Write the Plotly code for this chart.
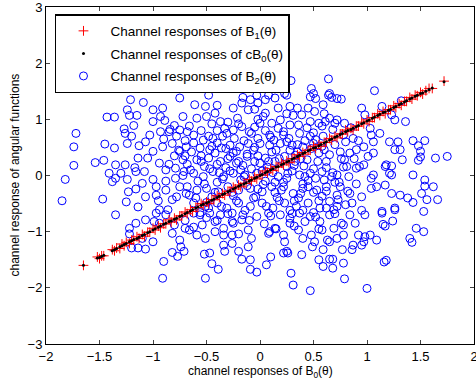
import plotly.graph_objects as go

# channel responses of B0 (x axis) and the two responses along the line
b0 = [
    -1.65, -1.52, -1.50, -1.48, -1.46, -1.38, -1.36, -1.34, -1.31, -1.29,
    -1.27, -1.25, -1.22, -1.20, -1.18, -1.15, -1.13, -1.10, -1.08, -1.05,
    -1.03, -1.00, -0.98, -0.95, -0.93, -0.90, -0.88, -0.85, -0.83, -0.80,
    -0.78, -0.75, -0.73, -0.70, -0.68, -0.65, -0.63, -0.60, -0.58, -0.55,
    -0.53, -0.50, -0.48, -0.45, -0.43, -0.40, -0.38, -0.35, -0.33, -0.30,
    -0.28, -0.25, -0.23, -0.20, -0.18, -0.15, -0.13, -0.10, -0.08, -0.05,
    -0.03, 0.00, 0.02, 0.05, 0.07, 0.10, 0.12, 0.15, 0.17, 0.20,
    0.22, 0.25, 0.27, 0.30, 0.32, 0.35, 0.37, 0.40, 0.42, 0.45,
    0.47, 0.50, 0.52, 0.55, 0.57, 0.60, 0.62, 0.65, 0.67, 0.70,
    0.72, 0.75, 0.77, 0.80, 0.82, 0.85, 0.87, 0.90, 0.92, 0.95,
    0.97, 1.00, 1.02, 1.05, 1.07, 1.10, 1.12, 1.15, 1.17, 1.20,
    1.22, 1.25, 1.27, 1.30, 1.32, 1.35, 1.37, 1.40, 1.42, 1.45,
    1.47, 1.50, 1.52, 1.55, 1.58, 1.61, 1.72,
]

b1 = [
    -1.60, -1.45, -1.48, -1.43, -1.43, -1.32, -1.34, -1.29, -1.30, -1.22,
    -1.25, -1.19, -1.21, -1.15, -1.15, -1.09, -1.12, -1.05, -1.08, -1.01,
    -1.01, -0.94, -0.97, -0.90, -0.93, -0.86, -0.86, -0.79, -0.83, -0.76,
    -0.79, -0.72, -0.72, -0.65, -0.68, -0.61, -0.64, -0.57, -0.57, -0.50,
    -0.53, -0.47, -0.50, -0.43, -0.43, -0.36, -0.39, -0.32, -0.35, -0.28,
    -0.28, -0.21, -0.24, -0.17, -0.20, -0.14, -0.14, -0.07, -0.10, -0.03,
    -0.06, 0.01, 0.01, 0.08, 0.05, 0.12, 0.09, 0.16, 0.15, 0.22,
    0.19, 0.26, 0.23, 0.30, 0.30, 0.37, 0.34, 0.41, 0.38, 0.45,
    0.45, 0.52, 0.48, 0.55, 0.52, 0.59, 0.59, 0.66, 0.63, 0.70,
    0.67, 0.74, 0.74, 0.81, 0.78, 0.84, 0.81, 0.88, 0.88, 0.95,
    0.92, 0.99, 0.96, 1.03, 1.03, 1.10, 1.07, 1.14, 1.10, 1.17,
    1.17, 1.24, 1.21, 1.28, 1.25, 1.32, 1.32, 1.39, 1.36, 1.43,
    1.42, 1.48, 1.45, 1.51, 1.55, 1.55, 1.68,
]

cb0 = [
    -1.60, -1.47, -1.46, -1.44, -1.42, -1.34, -1.32, -1.30, -1.27, -1.25,
    -1.23, -1.21, -1.18, -1.16, -1.14, -1.12, -1.10, -1.07, -1.05, -1.02,
    -1.00, -0.97, -0.95, -0.92, -0.90, -0.87, -0.85, -0.82, -0.81, -0.78,
    -0.76, -0.73, -0.71, -0.68, -0.66, -0.63, -0.61, -0.58, -0.56, -0.53,
    -0.51, -0.49, -0.47, -0.44, -0.42, -0.39, -0.37, -0.34, -0.32, -0.29,
    -0.27, -0.24, -0.22, -0.19, -0.17, -0.15, -0.13, -0.10, -0.08, -0.05,
    -0.03, 0.00, 0.02, 0.05, 0.07, 0.10, 0.12, 0.15, 0.16, 0.19,
    0.21, 0.24, 0.26, 0.29, 0.31, 0.34, 0.36, 0.39, 0.41, 0.44,
    0.46, 0.49, 0.50, 0.53, 0.55, 0.58, 0.60, 0.63, 0.65, 0.68,
    0.70, 0.73, 0.75, 0.78, 0.80, 0.82, 0.84, 0.87, 0.89, 0.92,
    0.94, 0.97, 0.99, 1.02, 1.04, 1.07, 1.09, 1.12, 1.13, 1.16,
    1.18, 1.21, 1.23, 1.26, 1.28, 1.31, 1.33, 1.36, 1.38, 1.41,
    1.43, 1.46, 1.47, 1.50, 1.53, 1.56, 1.67,
]

# channel responses of B2 (scattered cloud)
b2_x = [
    -1.21, -1.09, -0.75, -0.91, -1.00, -1.24, -1.43, -1.36, -1.22, -1.15,
    -1.00, -0.93, -0.89, -0.80, -0.72, -1.18, -1.27, -1.26, -1.20, -1.24,
    -1.72, -1.74, -1.45, -1.36, -1.03, -0.93, -0.85, -0.75, -0.68, -1.13,
    -1.07, -1.00, -0.91, -0.82, -0.75, -0.69, -1.14, -1.05, -0.94, -0.88,
    -0.79, -0.72, -1.54, -1.46, -1.35, -1.26, -1.17, -1.74, -1.82, -1.41,
    -1.35, -1.30, -1.38, -1.24, -1.16, -1.08, -1.00, -1.10, -1.16, -1.23,
    -1.07, -0.97, -0.88, -0.75, -0.69, -1.85, -1.47, -1.25, -1.14, -1.35,
    -0.94, -0.86, -0.82, -0.97, -0.79, -0.71,
    -1.16, -1.22, -1.22, -1.10, -1.00, -1.20, -1.14, -1.07, -0.99, -0.97,
    -0.88, -0.82, -0.80, -0.82, -0.77, -0.75, -0.74, -0.71, -0.70, -0.90,
    -0.91, -0.66, -1.07, -0.94,
    -0.51, -0.52, -0.47, -0.45, -0.39, -0.54, -0.59, -0.51, -0.42, -0.34,
    -0.34, -0.33, -0.26, -0.20, -0.20, -0.17, -0.11, -0.09, -0.09, -0.03,
    -0.08, -0.11, 0.06, 0.10, 0.08, 0.14, 0.22, 0.23, 0.25, 0.26,
    0.29, 0.31, 0.39, 0.47, 0.40, 0.51, 0.49, 0.55, 0.59, 0.63,
    0.65, 0.58, 0.36, 0.28, -0.25, -0.17, -0.42,
    -0.62, -0.56, -0.47, -0.37, -0.26, -0.16, -0.03, 0.08, 0.19, 0.28,
    0.37, 0.42, 0.47, 0.56, 0.65, 0.48, 0.22, 0.09, -0.26, -0.34,
    0.65, 0.59,
    0.79, 1.00, 0.78, 0.68, 0.68, 0.77, 0.86, 0.87, 0.95, 1.16,
    1.18, 1.40, 1.42, 1.46, 1.53, 1.53, 1.24, 1.15, 1.17, 1.14,
    1.09, 1.03, 0.98, 0.92, 0.97, 0.78, 0.72, 0.69, 0.78, 0.89,
    0.98, 0.84, 1.26,
    1.07, 0.76, 0.67, 0.64, 0.95, 1.14, 1.32, 1.23, 1.26, 1.36,
    0.98, 1.03, 1.12, 1.06, 1.21, 1.29, 1.43, 1.54, 1.48, 1.50,
    1.26, 1.31, 1.33, 1.50, 1.48, 1.64, 1.75, 1.17, 1.23, 1.23,
    1.43, 1.54, 1.62, 1.54, 1.51, 1.38, 1.43, 1.56, 1.66, 1.26,
    1.31, 1.23, 1.14, 1.09, 1.17, 1.04, 1.06, 1.04, 1.21, 1.18,
    0.93, 0.97, 0.90, 1.01, 1.06, 0.97, 0.90, 0.84, 0.79, 0.81,
    0.72, 0.83, 0.75, 0.84, 0.95, 0.86, 0.73, 0.69, 1.04, 0.87,
    0.78, 0.70, 0.79, 0.72,
    -0.61, -0.51, -0.42, -0.37, -0.59, -0.25, -0.17, -0.11, -0.09, -0.02,
    0.05, 0.14, 0.25, 0.28, 0.39, 0.47, 0.51, 0.59, 0.64, 0.61,
    0.55, 0.47, 0.28, 0.19, 0.11, 0.00, 0.05, 0.17, -0.25, -0.31,
    -0.17, -0.08, 0.09, 0.22, 0.37, 0.47, 0.59, -0.62, -0.53, -0.44,
    -0.56, -0.47, -0.36, -0.28, -0.19, -0.11, 0.00, 0.09, 0.19, 0.30,
    0.40, 0.50, -0.59, -0.48, -0.37, -0.28, -0.20, -0.12, -0.05, 0.05,
    0.14, 0.23, 0.33, 0.44, 0.54, 0.65, -0.62, -0.53, -0.44, -0.34,
    -0.25, -0.14, -0.03, 0.06, 0.17, 0.26, 0.37, 0.47, 0.58, 0.67,
    -0.59, -0.50, -0.39, -0.30, -0.20, -0.09, 0.02, 0.11, 0.20, 0.31,
    0.40, 0.53, 0.62, -0.62, -0.51, -0.40, -0.31, -0.20, -0.09, 0.02,
    0.12, 0.23, 0.34, 0.45, 0.56, 0.65,
    0.29, 0.20, 0.23, 0.48, 0.65, 0.72, 0.50, -0.48, -0.16, -0.03,
    0.08, 0.52,
    -0.66, -0.45, -0.21, 0.03, 0.31, 0.44, 0.68, -0.55, -0.33, -0.05,
    0.17, 0.36, 0.58, -0.70, -0.40, -0.24, -0.02, 0.13, 0.27, 0.52,
    0.70, -0.64, -0.42, -0.22, -0.06, 0.11, 0.35, 0.60, -0.68, -0.52,
    -0.32, -0.16, 0.07, 0.25, 0.41, 0.62, -0.58, -0.40, -0.18, 0.05,
    0.22, 0.45, 0.70, -0.66, -0.45, -0.25, -0.04, 0.16, 0.36, 0.58,
    -0.56, -0.36, -0.14, 0.06, 0.28, 0.50, 0.72, -0.48, -0.10, 0.22,
    0.50, -0.30, 0.00, 0.30, 0.52, -0.12, 0.14, 0.40, -0.50, 0.62,
    -0.80, -0.78, 0.80, 0.82, 0.76, -0.84, 0.85, -0.05, 0.35, -0.40,
    0.60, -0.26, 0.04, 0.32, -0.70, 0.76,
    -0.35, -0.15, 0.05, 0.25, 0.42, -0.45, -0.25, -0.05, 0.15, 0.33,
    -0.55, -0.40, -0.22, -0.02, 0.18, 0.38, 0.55, -0.65, -0.47, -0.28,
    -0.08, 0.12, 0.32, 0.50, 0.62, -0.52, -0.35, -0.15, 0.03, 0.25,
    0.42, 0.60, -0.60, -0.42, -0.22, -0.02, 0.18, 0.38, 0.55, 0.72,
    -0.50, -0.30, -0.10, 0.10, 0.30, 0.52, 0.70, -0.72, -0.76, -0.78,
    0.75, 0.78, 0.74, 0.80, -0.30, -0.02, 0.25, 0.45, -0.50, 0.65,
    -0.62, -0.40, -0.20, 0.10, 0.35, 0.58, -0.68, -0.48, 0.40, 0.62,
    -0.85, -0.88, -0.90, 0.88, 0.90, 0.92, -0.95, 0.95, -0.62, 0.15,
    -0.32, -0.12, 0.08, 0.28, 0.48, -0.38, -0.18, 0.02, 0.22, 0.45,
    -0.55, -0.70, -0.26, -0.06, 0.14, 0.32, 0.50, 0.68, -0.40, 0.55,
]

b2_y = [
    1.35, 1.30, 1.38, 1.20, 1.17, 1.17, 1.04, 1.04, 1.07, 1.07,
    0.96, 1.05, 0.98, 0.89, 1.05, 0.89, 0.83, 0.75, 0.70, 0.57,
    0.75, 0.51, 0.56, 0.49, 0.72, 0.78, 0.78, 0.81, 0.78, 0.53,
    0.60, 0.43, 0.51, 0.57, 0.43, 0.51, 0.31, 0.31, 0.22, 0.10,
    0.13, 0.28, 0.23, 0.27, 0.19, 0.19, 0.14, 0.18, -0.07, 0.04,
    -0.05, 0.04, -0.11, -0.07, 0.07, 0.07, -0.07, -0.14, -0.24, -0.29,
    -0.38, -0.35, -0.26, -0.20, -0.32, -0.45, -0.42, -0.47, -0.56, -0.70,
    -0.61, -0.61, -0.43, -0.20, -0.05, 0.07,
    -0.85, -0.94, -1.04, -1.12, -1.18, -1.29, -1.29, -1.31, -0.82, -0.67,
    -0.70, -1.03, -0.88, -1.37, -1.44, -1.15, -1.27, -1.35, -0.94, -1.53,
    -1.83, -0.97, -0.79, -0.85,
    -1.83, -1.40, -1.38, -1.57, -1.67, -0.88, -1.06, -1.12, -1.00, -1.06,
    -1.24, -1.35, -1.21, -1.04, -1.35, -1.49, -1.27, -1.50, -1.67, -1.72,
    -1.12, -0.97, -1.59, -1.45, -1.03, -0.94, -1.06, -1.18, -1.35, -1.38,
    -1.74, -1.95, -1.41, -2.05, -1.12, -1.18, -1.27, -1.50, -1.62, -1.15,
    -1.49, -0.97, -0.97, -0.85, -0.85, -0.79, -0.82,
    -0.67, -0.70, -0.67, -0.70, -0.67, -0.70, -0.73, -0.67, -0.70, -0.76,
    -0.67, -0.82, -0.73, -0.82, -0.70, -1.06, -1.38, -1.00, -1.06, -0.94,
    -1.18, -1.32,
    -1.84, -2.01, -1.56, -1.49, -1.65, -1.32, -1.32, -1.24, -1.24, -1.54,
    -1.51, -1.12, -1.19, -0.94, -1.00, -0.64, -0.81, -0.87, -0.90, -0.67,
    -1.15, -1.06, -1.09, -1.06, -1.18, -1.06, -1.12, -0.94, -0.88, -0.85,
    -0.70, -0.70, -0.61,
    1.51, 1.36, 1.39, 1.72, 1.20, 1.23, 1.33, 1.08, 0.99, 0.96,
    1.08, 0.84, 0.75, 0.60, 0.60, 0.60, 0.62, 0.62, 0.53, 0.43,
    0.46, 0.46, 0.28, 0.33, 0.27, 0.31, 0.34, 0.16, 0.17, 0.01,
    0.01, -0.08, -0.20, -0.19, -0.32, -0.40, -0.48, -0.43, -0.43, -0.58,
    -0.35, -0.32, -0.64, -0.20, -0.17, -0.23, 0.01, -0.05, 0.04, 0.19,
    0.16, 0.19, 0.13, 0.34, 0.40, 0.51, 0.46, 0.40, 0.28, 0.16,
    0.01, -0.02, -0.20, -0.32, -0.38, -0.49, -0.43, -0.61, 0.72, 0.66,
    0.72, 0.93, 0.93, 0.99,
    1.26, 1.23, 1.11, 0.96, 1.02, 1.20, 1.29, 1.17, 1.35, 1.29,
    1.35, 1.38, 1.43, 1.23, 1.08, 1.40, 1.14, 1.26, 1.43, 0.96,
    0.93, 0.96, 0.90, 0.99, 0.93, 0.93, 1.11, 1.20, 0.81, 0.75,
    0.87, 0.75, 0.72, 0.72, 0.75, 0.70, 0.70, 0.72, 0.63, 0.66,
    0.49, 0.46, 0.49, 0.54, 0.51, 0.57, 0.57, 0.54, 0.57, 0.54,
    0.51, 0.57, 0.28, 0.31, 0.25, 0.34, 0.25, 0.34, 0.25, 0.31,
    0.25, 0.34, 0.25, 0.28, 0.25, 0.37, 0.04, -0.02, 0.07, -0.02,
    0.04, 0.01, 0.04, 0.07, -0.02, 0.04, 0.01, 0.04, 0.07, -0.02,
    -0.26, -0.23, -0.29, -0.20, -0.26, -0.23, -0.29, -0.20, -0.26, -0.32,
    -0.23, -0.26, -0.20, -0.49, -0.55, -0.49, -0.58, -0.49, -0.55, -0.49,
    -0.58, -0.49, -0.55, -0.49, -0.58, -0.46,
    1.69, 1.55, 1.46, 1.55, 1.46, 1.37, 1.46, 1.43, 1.39, 1.43,
    1.43, 1.37,
    0.88, 0.92, 1.02, 1.05, 1.07, 0.85, 0.82, 0.80, 0.84, 0.86,
    0.84, 0.90, 0.88, 0.62, 0.58, 0.66, 0.66, 0.63, 0.66, 0.64,
    0.55, 0.42, 0.40, 0.43, 0.45, 0.42, 0.42, 0.46, 0.20, 0.16,
    0.14, 0.18, 0.15, 0.16, 0.17, 0.14, -0.10, -0.12, -0.08, -0.10,
    -0.12, -0.09, -0.12, -0.35, -0.38, -0.36, -0.38, -0.39, -0.40, -0.37,
    -0.66, -0.55, -0.62, -0.55, -0.62, -0.66, -0.55, 0.70, 0.78, 0.78,
    0.76, 0.30, 0.22, 0.08, -0.05, -0.18, -0.30, -0.15, -0.48, -0.28,
    0.35, -0.38, 0.60, -0.28, 0.30, 0.82, 0.85, 1.18, 1.20, 1.25,
    1.10, -0.82, -0.86, -0.90, -0.80, -0.85,
    0.70, 0.62, 0.80, 0.60, 0.62, 0.52, 0.40, 0.50, 0.45, 0.36,
    0.35, 0.20, 0.22, 0.35, 0.30, 0.30, 0.40, 0.10, 0.12, 0.08,
    0.12, 0.05, 0.18, 0.12, 0.25, -0.15, -0.06, -0.02, -0.16, -0.05,
    -0.02, -0.08, -0.40, -0.30, -0.45, -0.24, -0.45, -0.32, -0.45, -0.35,
    -0.75, -0.68, -0.80, -0.72, -0.68, -0.74, -0.68, 0.00, 0.45, 0.70,
    0.42, 0.15, -0.12, -0.52, 0.95, 1.00, 1.10, 1.20, 1.05, 1.02,
    0.58, 0.80, 0.92, 0.68, 0.55, 0.52, -0.20, -0.58, -0.62, -0.58,
    0.20, -0.10, 0.65, 0.30, -0.15, 0.62, -0.45, -0.62, -0.92, -0.95,
    0.48, 0.38, 0.25, 0.45, 0.48, 0.05, 0.10, 0.08, -0.20, -0.20,
    0.25, 0.35, -0.30, -0.40, -0.12, -0.45, -0.30, 0.05, -0.80, -0.95,
]

font_family = "Liberation Sans, Arial, sans-serif"

fig = go.Figure()

fig.add_trace(
    go.Scatter(
        x=b2_x,
        y=b2_y,
        mode="markers",
        name="Channel responses of B<sub>2</sub>(θ)",
        legendgroup="b2",
        marker=dict(symbol="circle-open", size=8, color="#0000ff", line=dict(width=1)),
        legendrank=3,
    )
)

fig.add_trace(
    go.Scatter(
        x=b0,
        y=b1,
        mode="markers",
        name="Channel responses of B<sub>1</sub>(θ)",
        legendgroup="b1",
        marker=dict(symbol="cross-thin", size=7, line=dict(width=1, color="#ff0000")),
        legendrank=1,
    )
)

fig.add_trace(
    go.Scatter(
        x=b0,
        y=cb0,
        mode="markers",
        name="Channel responses of cB<sub>0</sub>(θ)",
        legendgroup="cb0",
        marker=dict(symbol="circle", size=3, color="black"),
        legendrank=2,
    )
)

# axis titles as annotations so they sit where the original puts them
fig.add_annotation(
    text="channel responses of B<sub>0</sub>(θ)",
    xref="paper", yref="paper", x=0.5, y=0,
    xanchor="center", yanchor="middle", yshift=-28,
    showarrow=False, font=dict(family=font_family, size=12, color="black"),
)
fig.add_annotation(
    text="channel response of angular functions",
    xref="paper", yref="paper", x=0, y=0.5,
    xanchor="center", yanchor="middle", xshift=-32, textangle=-90,
    showarrow=False, font=dict(family=font_family, size=12, color="black"),
)

fig.update_layout(
    width=476,
    height=385,
    plot_bgcolor="white",
    paper_bgcolor="white",
    font=dict(family=font_family, size=12, color="black"),
    showlegend=True,
    legend=dict(
        x=0.021,
        y=0.979,
        xanchor="left",
        yanchor="top",
        bgcolor="white",
        bordercolor="black",
        borderwidth=1.5,
        tracegroupgap=2,
        font=dict(family=font_family, size=13.5, color="black"),
        itemwidth=44,
    ),
    margin=dict(l=46, r=2, t=7, b=41),
)

fig.update_xaxes(
    range=[-2, 2],
    dtick=0.5,
    ticks="inside",
    ticklen=4,
    showline=True,
    linecolor="black",
    linewidth=1,
    mirror="ticks",
    showgrid=False,
    zeroline=False,
    automargin=False,
    ticklabeloverflow="allow",
    tickfont=dict(size=13),
)

fig.update_yaxes(
    range=[-3, 3],
    dtick=1,
    ticks="inside",
    ticklen=4,
    showline=True,
    linecolor="black",
    linewidth=1,
    mirror="ticks",
    showgrid=False,
    zeroline=False,
    automargin=False,
    ticklabeloverflow="allow",
    tickfont=dict(size=13),
)

fig.write_html(
    "out.html",
    config={"displayModeBar": False},
    post_script="document.body.style.margin='0px';",
)
